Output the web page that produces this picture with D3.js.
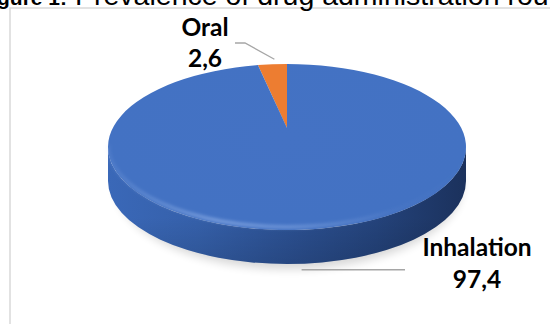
<!DOCTYPE html>
<html>
<head>
<meta charset="utf-8">
<script src="https://cdn.jsdelivr.net/npm/d3@7.9.0/dist/d3.min.js"></script>
<style>
  body { margin: 0; background: #fff; }
  svg { display: block; }
</style>
</head>
<body>
<svg width="550" height="324"></svg>
<script>
// data
const routes = ['Oral', 'Inhalation'];
const shares = [2.6, 97.4];
const sliceColors = ['#ED7D31', '#4472C4'];
const valueLabels = ['2,6', '97,4'];

const svg = d3.select('svg');
const defs = svg.append('defs');

// chart frame + cut-off caption above it
svg.append('rect')
  .attr('x', 10).attr('y', 8)
  .attr('width', 560).attr('height', 340)
  .attr('fill', 'none').attr('stroke', '#d9d9d9').attr('stroke-width', 1.5);

svg.append('text')
  .attr('x', 67).attr('y', 5)
  .attr('text-anchor', 'end')
  .attr('font-family', 'Liberation Sans, Arial, sans-serif')
  .attr('font-weight', 'bold').attr('font-size', 21)
  .text('Figure 1:');
svg.append('text')
  .attr('x', 75).attr('y', 5)
  .attr('font-family', 'Liberation Sans, Arial, sans-serif')
  .attr('font-size', 28.5)
  .text('Prevalence of drug administration routes');

// pie geometry (top face ellipse + thickness)
const cx = 287, cy = 147, rx = 179, ry = 83, depth = 34;
const apex = [cx, cy - 19]; // perspective centre of the top face

const pt = (a, dy = 0) => [cx + rx * Math.sin(a), cy - ry * Math.cos(a) + dy];

const pie = d3.pie().sort(null).value(d => d)
  .startAngle(-2 * Math.PI * shares[0] / 100)
  .endAngle(2 * Math.PI - 2 * Math.PI * shares[0] / 100);
const arcs = pie(shares);

// shadow under the pie
const blur = defs.append('filter').attr('id', 'shadow')
  .attr('x', '-20%').attr('y', '-40%').attr('width', '140%').attr('height', '180%');
blur.append('feGaussianBlur').attr('stdDeviation', 5);
svg.append('ellipse')
  .attr('cx', cx + 2).attr('cy', cy + depth + 5)
  .attr('rx', rx - 6).attr('ry', ry)
  .attr('fill', '#000').attr('opacity', 0.16)
  .attr('filter', 'url(#shadow)');

// side gradient
const sideGrad = defs.append('linearGradient').attr('id', 'side')
  .attr('x1', 0).attr('x2', 1).attr('y1', 0).attr('y2', 0);
[[0, '#3a68b8'], [0.25, '#3560aa'], [0.5, '#2c5193'], [0.75, '#24437b'], [1, '#1b315c']]
  .forEach(([o, c]) => sideGrad.append('stop').attr('offset', o).attr('stop-color', c));

const sideShade = defs.append('linearGradient').attr('id', 'sideShade')
  .attr('x1', 0).attr('x2', 0).attr('y1', 0).attr('y2', 1);
sideShade.append('stop').attr('offset', 0).attr('stop-color', '#000').attr('stop-opacity', 0);
sideShade.append('stop').attr('offset', 0.6).attr('stop-color', '#000').attr('stop-opacity', 0);
sideShade.append('stop').attr('offset', 1).attr('stop-color', '#000').attr('stop-opacity', 0.12);

// front sides of each slice
const front = [Math.PI / 2, 3 * Math.PI / 2];
arcs.forEach((d, i) => {
  const a0 = Math.max(d.startAngle, front[0]);
  const a1 = Math.min(d.endAngle, front[1]);
  if (a1 <= a0) return;
  const p0 = pt(a0), p1 = pt(a1), q0 = pt(a0, depth), q1 = pt(a1, depth);
  const path = `M${p0}L${q0}A${rx},${ry} 0 0 1 ${q1}L${p1}A${rx},${ry} 0 0 0 ${p0}Z`;
  svg.append('path').attr('d', path)
    .attr('fill', i === 1 ? 'url(#side)' : d3.color(sliceColors[i]).darker(0.8));
  svg.append('path').attr('d', path).attr('fill', 'url(#sideShade)');
});

// top faces
const topGrad = defs.append('radialGradient').attr('id', 'top')
  .attr('cx', 0.5).attr('cy', 0.45).attr('r', 0.6);
topGrad.append('stop').attr('offset', 0).attr('stop-color', '#4472C4');
topGrad.append('stop').attr('offset', 0.85).attr('stop-color', '#4372c3');
topGrad.append('stop').attr('offset', 1).attr('stop-color', '#3f6cbc');

arcs.forEach((d, i) => {
  const p0 = pt(d.startAngle), p1 = pt(d.endAngle);
  const large = d.endAngle - d.startAngle > Math.PI ? 1 : 0;
  svg.append('path')
    .attr('d', `M${apex}L${p0}A${rx},${ry} 0 ${large} 1 ${p1}Z`)
    .attr('fill', i === 1 ? 'url(#top)' : sliceColors[i]);
});

// bevel highlight on the front rim
const rimBlur = defs.append('filter').attr('id', 'rim')
  .attr('x', '-10%').attr('y', '-20%').attr('width', '120%').attr('height', '140%');
rimBlur.append('feGaussianBlur').attr('stdDeviation', 1.6);
const rimGrad = defs.append('linearGradient').attr('id', 'rimGrad')
  .attr('x1', 0).attr('x2', 1);
[[0, 0.1], [0.3, 0.45], [0.5, 0.35], [0.8, 0.05], [1, 0]]
  .forEach(([o, a]) => rimGrad.append('stop').attr('offset', o)
    .attr('stop-color', '#a9c6f5').attr('stop-opacity', a));
const rimL = pt(3 * Math.PI / 2, -2), rimR = pt(Math.PI / 2, -2);
svg.append('path')
  .attr('d', `M${rimR}A${rx - 2},${ry - 2} 0 0 1 ${rimL}`)
  .attr('fill', 'none').attr('stroke', 'url(#rimGrad)').attr('stroke-width', 4)
  .attr('filter', 'url(#rim)');

// leader lines + labels
const leaderColor = '#a6a6a6';
const labelFont = 'Lato, "Open Sans", sans-serif';

const oralTip = pt((arcs[0].startAngle + arcs[0].endAngle) / 2, -5);
svg.append('path')
  .attr('d', `M${[oralTip[0] + 2, oralTip[1]]}L245,43L235,43`)
  .attr('fill', 'none').attr('stroke', leaderColor).attr('stroke-width', 1.3);

const inhMid = (arcs[1].startAngle + arcs[1].endAngle) / 2;
const inhTip = pt(inhMid, depth + 6);
svg.append('path')
  .attr('d', `M${inhTip}L405,${inhTip[1]}`)
  .attr('fill', 'none').attr('stroke', leaderColor).attr('stroke-width', 1.5);

const labelPos = [[205, 36, 67], [477, 256, 288]];
routes.forEach((r, i) => {
  const [x, y1, y2] = labelPos[i];
  const t = svg.append('text')
    .attr('text-anchor', 'middle')
    .attr('font-family', labelFont).attr('font-weight', 'bold')
    .attr('font-size', 24.5).attr('fill', '#000');
  t.append('tspan').attr('x', x).attr('y', y1).text(r);
  t.append('tspan').attr('x', x).attr('y', y2).text(valueLabels[i]);
});
</script>
</body>
</html>
